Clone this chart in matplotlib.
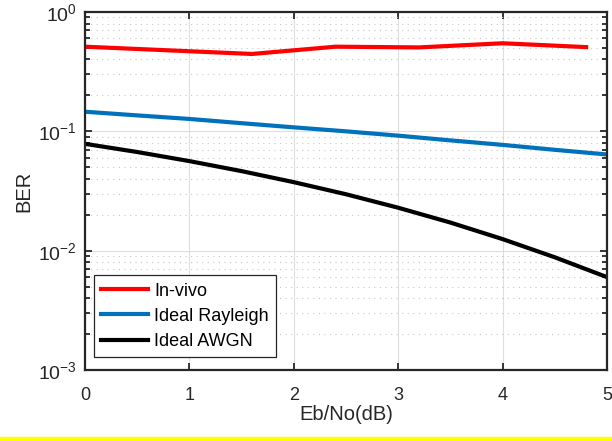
import numpy as np
import matplotlib; matplotlib.use('Agg')
import matplotlib.pyplot as plt
from matplotlib.ticker import LogLocator, NullFormatter
from matplotlib.patches import Rectangle

plt.rcParams['font.family'] = ['Liberation Sans', 'DejaVu Sans']
plt.rcParams['mathtext.fontset'] = 'custom'
plt.rcParams['mathtext.rm'] = 'Liberation Sans'
plt.rcParams['mathtext.it'] = 'Liberation Sans'
plt.rcParams['mathtext.bf'] = 'Liberation Sans'
plt.rcParams['mathtext.default'] = 'regular'

# data
invivo_x = [0, 1.6, 2.4, 3.2, 4.0, 4.8]
invivo_ber = [0.512, 0.445, 0.512, 0.505, 0.547, 0.508]
ebno = [0, 0.5, 1, 1.5, 2, 2.5, 3, 3.5, 4, 4.5, 5]
rayleigh_ber = [0.146, 0.136, 0.127, 0.117, 0.108, 0.100, 0.092, 0.084, 0.077, 0.070, 0.064]
awgn_ber = [0.0786, 0.0671, 0.0563, 0.0464, 0.0375, 0.0297, 0.0229, 0.0172, 0.0125, 0.0088, 0.0060]

fig = plt.figure(figsize=(6.12, 4.41), dpi=100)
ax = fig.add_axes([85/612, 71/441, 522/612, 358/441])

ax.semilogy(invivo_x, invivo_ber, color='#FF0000', lw=3, label='In-vivo')
ax.semilogy(ebno, rayleigh_ber, color='#0072BD', lw=3, label='Ideal Rayleigh')
ax.semilogy(ebno, awgn_ber, color='#000000', lw=3, label='Ideal AWGN')

ax.set_xlim(0, 5); ax.set_ylim(1e-3, 1)
ax.set_xticks(range(6))
ax.yaxis.set_major_locator(LogLocator(base=10, numticks=10))
ax.yaxis.set_minor_locator(LogLocator(base=10, subs=np.arange(2, 10), numticks=20))
ax.yaxis.set_minor_formatter(NullFormatter())
ax.tick_params(which='both', direction='in', top=True, right=True, colors='#262626',
               labelsize=13, labelcolor='#262626')
ax.tick_params(axis='y', labelsize=14)
ax.tick_params(which='major', length=5, width=1.3)
ax.tick_params(which='minor', length=3.5, width=1.3)
ax.tick_params(axis='x', which='minor', top=False, bottom=False)
ax.tick_params(axis='x', pad=12)
ax.tick_params(axis='y', pad=6)

ax.grid(which='major', color='#dedede', lw=0.8, ls='-')
ax.grid(which='minor', axis='y', color='#c8c8c8', lw=0.8, ls=(0, (1, 4)))
ax.set_axisbelow(True)
for s in ax.spines.values():
    s.set_linewidth(1.6); s.set_color('#262626')

ax.set_xlabel('Eb/No(dB)', fontsize=14.5, color='#262626', labelpad=1)
ax.set_ylabel('BER', fontsize=14.5, color='#262626', labelpad=3)

leg = ax.legend(loc='lower left', bbox_to_anchor=(0.017, 0.036), borderaxespad=0,
                fontsize=13, handlelength=2.6, handletextpad=0.35, labelspacing=0.45,
                fancybox=False, framealpha=1, edgecolor='#262626', borderpad=0.4)
leg.get_frame().set_linewidth(0.9)

fig.patches.append(Rectangle((0, 0), 1, 4/441, transform=fig.transFigure,
                             color='#FFFF00', zorder=10))

fig.savefig('out.png', dpi=100)
